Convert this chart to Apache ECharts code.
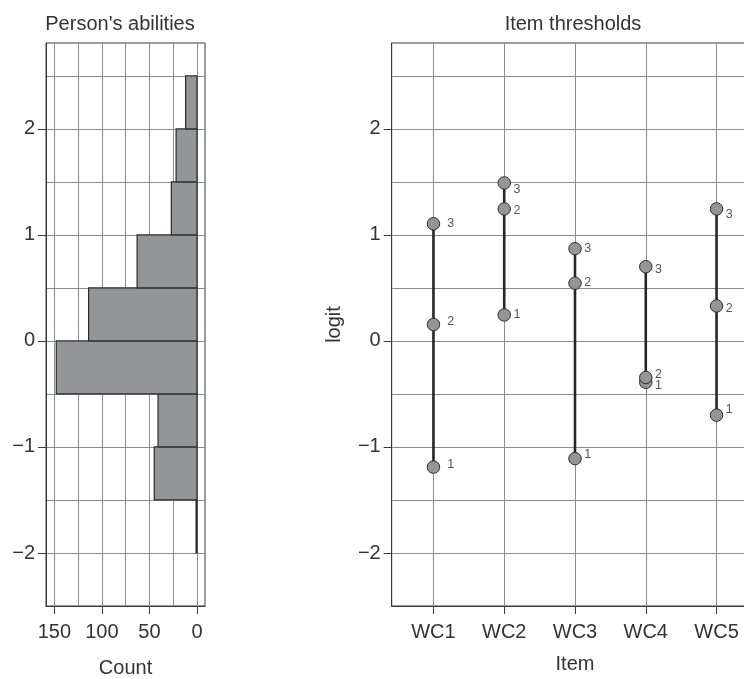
<!DOCTYPE html>
<html><head><meta charset="utf-8">
<script src="https://cdn.jsdelivr.net/npm/echarts@6/dist/echarts.min.js"></script>
<style>html,body{margin:0;padding:0;background:#fff}#c{width:744px;height:679px}</style>
</head><body><div id="c"></div>
<script>
// ---- data ----
const binStarts = [-2.0, -1.5, -1.0, -0.5, 0.0, 0.5, 1.0, 1.5, 2.0];
const binWidth = 0.5;
const counts = [1, 45, 41, 148, 114, 63, 27, 22, 12];
const countGridValues = [0, 25, 50, 75, 100, 125, 150];
const countTickValues = [0, 50, 100, 150];
const logitTickValues = [-2, -1, 0, 1, 2];
const logitGridValues = [-2, -1.5, -1, -0.5, 0, 0.5, 1, 1.5, 2, 2.5];
const items = ['WC1', 'WC2', 'WC3', 'WC4', 'WC5'];
const itemTickValues = [1, 2, 3, 4, 5];
const threshold1 = [-1.19, 0.245, -1.11, -0.39, -0.70];
const threshold2 = [0.155, 1.245, 0.545, -0.345, 0.33];
const threshold3 = [1.105, 1.49, 0.87, 0.70, 1.245];
const thresholdNames = ['1', '2', '3'];

// ---- style ----
const FONT = 'Liberation Sans, Arial, sans-serif';
const FS = 20;
const TXT = '#333';
const GRIDC = '#8c8c8c';
const BORDER = '#3a3a3a';
const labelDistance = [7, 2.5, 2.5, 2.5, 2.5];
const labelNudge = [ // [t1,t2,t3] vertical offsets
  [-3, -3, 0], [0, 2, 7], [-4, -1, 0], [3, -3, 3], [-6, 3, 6]
];
const LOGIT_MIN = -2.5, LOGIT_MAX = 2.81;
const COUNT_MIN = -8.4, COUNT_MAX = 158.8;
const ITEM_MIN = 0.41, ITEM_MAX = 5.59;

const fmtMinus = v => (v < 0 ? '\u2212' + Math.abs(v) : String(v));
const txt = (extra) => Object.assign({fontSize: FS, color: TXT, fontFamily: FONT}, extra || {});
const axisLineStyle = {show: true, onZero: false, lineStyle: {color: BORDER}};

const chart = echarts.init(document.getElementById('c'), null, {renderer: 'canvas'});

const thresholds = [threshold1, threshold2, threshold3];
const itemSeries = items.map((it, i) => {
  const pts = thresholds.map((arr, k) => ({
    name: thresholdNames[k],
    value: [i + 1, arr[i]],
    label: {offset: [0, labelNudge[i][k]]}
  }));
  pts.sort((a, b) => a.value[1] - b.value[1]);
  return {
    type: 'line', name: it, xAxisIndex: 1, yAxisIndex: 1, z: 5,
    data: pts,
    symbol: 'circle', symbolSize: 12.5,
    itemStyle: {color: '#959597', borderColor: '#2e2e2e', borderWidth: 1},
    lineStyle: {color: '#262626', width: 2.6},
    label: {show: true, position: 'right', distance: labelDistance[i],
      formatter: p => p.name, color: '#555', fontSize: 12.5, fontFamily: FONT},
    emphasis: {disabled: true}, animation: false
  };
});

const gridOnlyAxis = (extra) => Object.assign({
  type: 'value',
  axisLine: {show: false, onZero: false},
  axisTick: {show: true, length: 0},
  axisLabel: {show: false},
  splitLine: {show: true, showMinLine: true, showMaxLine: true, lineStyle: {color: GRIDC, width: 1}}
}, extra);

const option = {
  animation: false,
  backgroundColor: '#fff',
  textStyle: {fontFamily: FONT},
  graphic: [
    {type: 'text', x: 120, y: 24, style: {text: "Person's abilities", fill: TXT, font: FS + 'px ' + FONT, align: 'center', verticalAlign: 'middle'}},
    {type: 'text', x: 573, y: 24, style: {text: 'Item thresholds', fill: TXT, font: FS + 'px ' + FONT, align: 'center', verticalAlign: 'middle'}}
  ],
  grid: [
    {left: 46, width: 159, top: 43, height: 563, show: true, borderColor: BORDER, borderWidth: 1,
      backgroundColor: 'transparent', outerBoundsMode: 'none', containLabel: false},
    {left: 391.7, right: -14.3, top: 43, height: 563, show: true, borderColor: BORDER, borderWidth: 1,
      backgroundColor: 'transparent', outerBoundsMode: 'none', containLabel: false}
  ],
  xAxis: [
    {type: 'value', gridIndex: 0, inverse: true, min: COUNT_MIN, max: COUNT_MAX, position: 'bottom',
      name: 'Count', nameLocation: 'middle', nameGap: 52, nameTextStyle: txt(),
      axisLine: axisLineStyle,
      axisTick: {show: true, length: 8, customValues: countTickValues, lineStyle: {color: BORDER}},
      axisLabel: txt({customValues: countTickValues, margin: 16}),
      splitLine: {show: false}},
    {type: 'value', gridIndex: 1, min: ITEM_MIN, max: ITEM_MAX, position: 'bottom',
      name: 'Item', nameLocation: 'middle', nameGap: 48, nameTextStyle: txt(),
      axisLine: axisLineStyle,
      axisTick: {show: true, length: 8, customValues: itemTickValues, lineStyle: {color: BORDER}},
      axisLabel: txt({customValues: itemTickValues, margin: 16, formatter: v => items[Math.round(v) - 1]}),
      splitLine: {show: true, showMinLine: true, showMaxLine: true, lineStyle: {color: GRIDC, width: 1}}},
    gridOnlyAxis({gridIndex: 0, inverse: true, min: COUNT_MIN, max: COUNT_MAX, position: 'bottom',
      axisTick: {show: true, length: 0, customValues: countGridValues}})
  ],
  yAxis: [
    {type: 'value', gridIndex: 0, min: LOGIT_MIN, max: LOGIT_MAX, position: 'left',
      axisLine: axisLineStyle,
      axisTick: {show: true, length: 8, customValues: logitTickValues, lineStyle: {color: BORDER}},
      axisLabel: txt({customValues: logitTickValues, margin: 11, formatter: fmtMinus}),
      splitLine: {show: false}},
    {type: 'value', gridIndex: 1, min: LOGIT_MIN, max: LOGIT_MAX, position: 'left',
      name: 'logit', nameLocation: 'middle', nameGap: 47, nameTextStyle: txt(),
      axisLine: axisLineStyle,
      axisTick: {show: true, length: 8, customValues: logitTickValues, lineStyle: {color: BORDER}},
      axisLabel: txt({customValues: logitTickValues, margin: 11, formatter: fmtMinus}),
      splitLine: {show: false}},
    gridOnlyAxis({gridIndex: 0, min: LOGIT_MIN, max: LOGIT_MAX, position: 'left',
      axisTick: {show: true, length: 0, customValues: logitGridValues}}),
    gridOnlyAxis({gridIndex: 1, min: LOGIT_MIN, max: LOGIT_MAX, position: 'left',
      axisTick: {show: true, length: 0, customValues: logitGridValues}})
  ],
  series: [
    {type: 'custom', xAxisIndex: 0, yAxisIndex: 0, z: 4,
      data: binStarts.map((b, i) => [b, counts[i]]),
      encode: {x: 1, y: 0},
      renderItem: (params, api) => {
        const y0 = api.value(0), c = api.value(1);
        const a = api.coord([c, y0 + binWidth]);
        const b = api.coord([0, y0]);
        return {type: 'rect',
          shape: {x: Math.min(a[0], b[0]), y: Math.min(a[1], b[1]), width: Math.abs(b[0] - a[0]), height: Math.abs(b[1] - a[1])},
          style: {fill: '#939598', stroke: '#2b2b2b', lineWidth: 1.2}};
      }},
    ...itemSeries
  ]
};
chart.setOption(option);
</script>
</body></html>
